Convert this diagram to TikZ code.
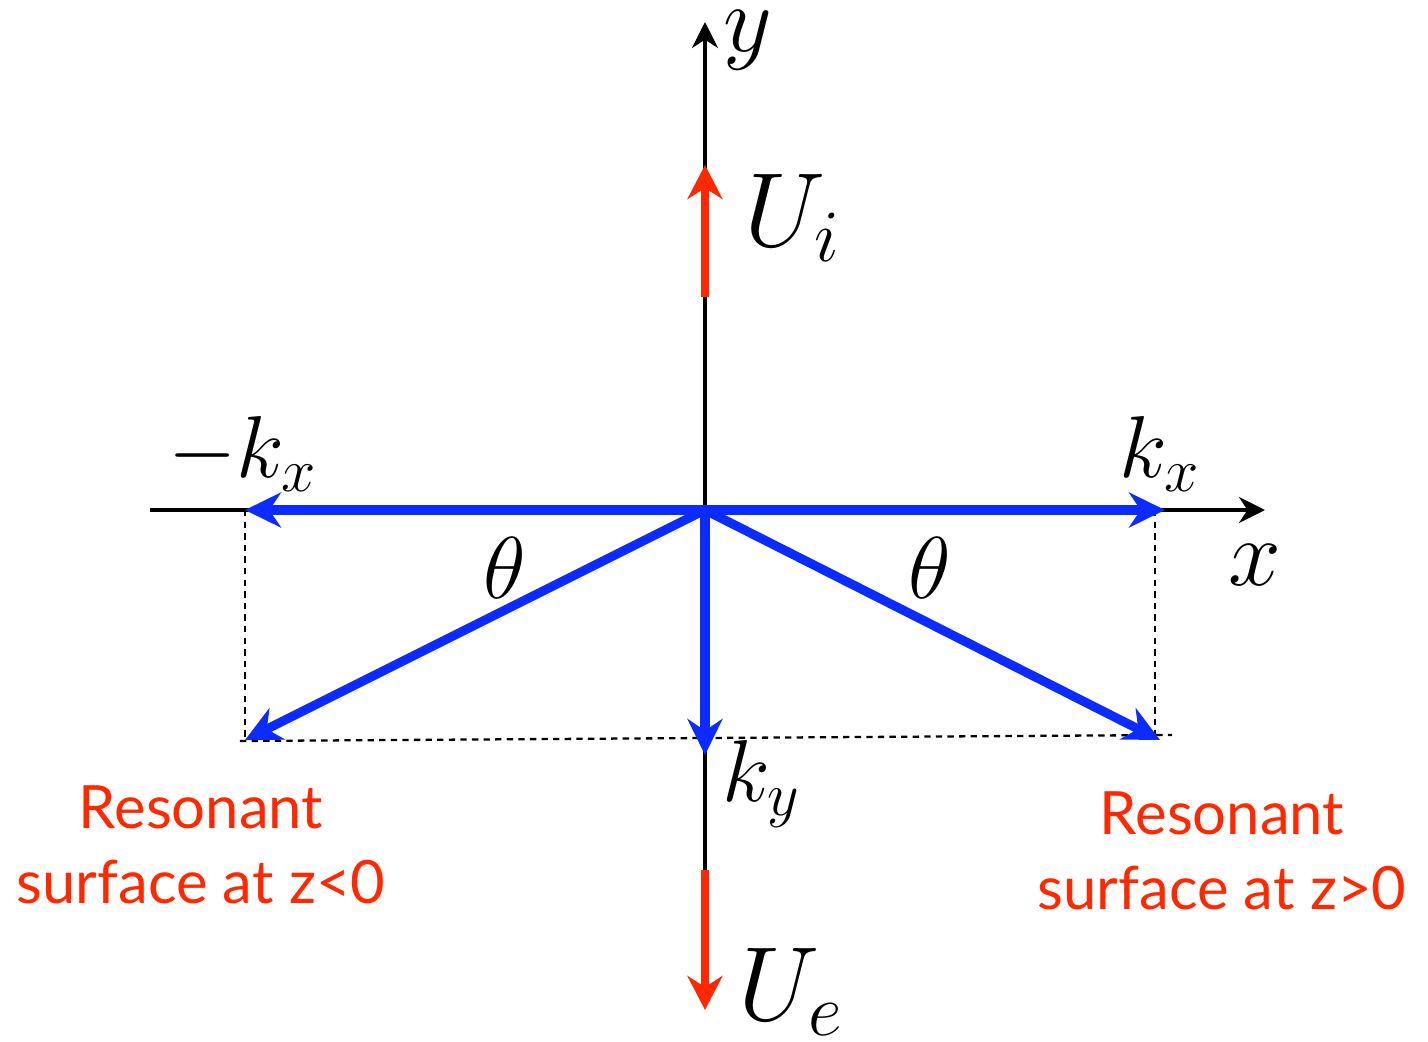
\RequirePackage{fix-cm}
\documentclass[tikz,border=0pt]{standalone}
\usepackage{fontspec}
\newfontfamily\notefont{Lato}
\usepackage{tikz}
\usetikzlibrary{arrows.meta,positioning,calc}
\definecolor{vecblue}{RGB}{12,44,255}
\definecolor{vecred}{RGB}{255,40,0}

\begin{document}
\begin{tikzpicture}[
    axis/.style={line width=1.1pt, -{Stealth[length=2.6mm, width=2.6mm]}},
    kvec/.style={vecblue, line width=2.6pt, -{Stealth[length=3.6mm, width=3.5mm]}},
    uvec/.style={vecred, line width=2.1pt, -{Stealth[length=3.4mm, width=3.5mm]}},
    guide/.style={line width=0.65pt, dash pattern=on 1.8pt off 1.5pt},
    sym/.style={inner sep=0pt, font=\fontsize{25}{25}\selectfont},
    axlabel/.style={inner sep=0pt, font=\fontsize{27}{27}\selectfont},
    big/.style={inner sep=0pt, font=\fontsize{30}{30}\selectfont},
    note/.style={vecred, inner sep=0pt, align=center, font=\notefont\fontsize{17}{21.5}\selectfont}
]
\useasboundingbox (-7.05,-5.31) rectangle (7.23,5.10);

% Points
\coordinate (O) at (0,0);
\coordinate (xl) at (-5.55,0);
\coordinate (xr) at (5.60,0);
\coordinate (yb) at (0,-3.60);
\coordinate (yt) at (0,4.88);
\coordinate (kxl) at (-4.60,0);
\coordinate (kxr) at (4.60,0);
\coordinate (kl) at (-4.60,-2.30);
\coordinate (kr) at (4.55,-2.30);
\coordinate (ky) at (0,-2.45);
\coordinate (ui0) at (0,2.13);
\coordinate (ui1) at (0,3.45);
\coordinate (ue1) at (0,-5.00);
\coordinate (gl) at (-4.65,-2.31);
\coordinate (gr) at (4.67,-2.25);
\coordinate (gvl) at (-4.60,-2.30);
\coordinate (gvr) at (4.50,-2.26);
\coordinate (gtr) at (4.50,0);

% Axes
\draw[axis] (xl) -- (xr);
\draw[axis] (yb) -- (yt);

% Dashed guides
\draw[guide] (kxl) -- (gvl);
\draw[guide] (gtr) -- (gvr);
\draw[guide] (gl) -- (gr);

% Wave vectors
\draw[kvec] (O) -- (kxl);
\draw[kvec] (O) -- (kxr);
\draw[kvec] (O) -- (kl);
\draw[kvec] (O) -- (kr);
\draw[kvec] (O) -- (ky);

% Flows
\draw[uvec] (ui0) -- (ui1);
\draw[uvec] (yb) -- (ue1);

% Labels
\node[axlabel] (ylab) at (0.43,4.70) {$y$};
\node[axlabel] (xlab) at (5.50,-0.55) {$x$};
\node[big] (uilab) at (0.88,2.92) {$U_i$};
\node[big] (uelab) at (0.86,-4.82) {$U_e$};
\node[sym] (kxllab) at (-4.62,0.56) {$-k_x$};
\node[sym] (kxrlab) at (4.55,0.56) {$k_x$};
\node[sym] (kylab) at (0.57,-2.74) {$k_y$};
\node[sym] (thl) at (-2.00,-0.58) {$\theta$};
\node[sym] (thr) at (2.25,-0.58) {$\theta$};

% Resonant surfaces
\node[note] (resl) at (-5.04,-3.35) {Resonant\\surface at z<0};
\node[note] (resr) at (5.17,-3.41) {Resonant\\surface at z>0};

\end{tikzpicture}
\end{document}
